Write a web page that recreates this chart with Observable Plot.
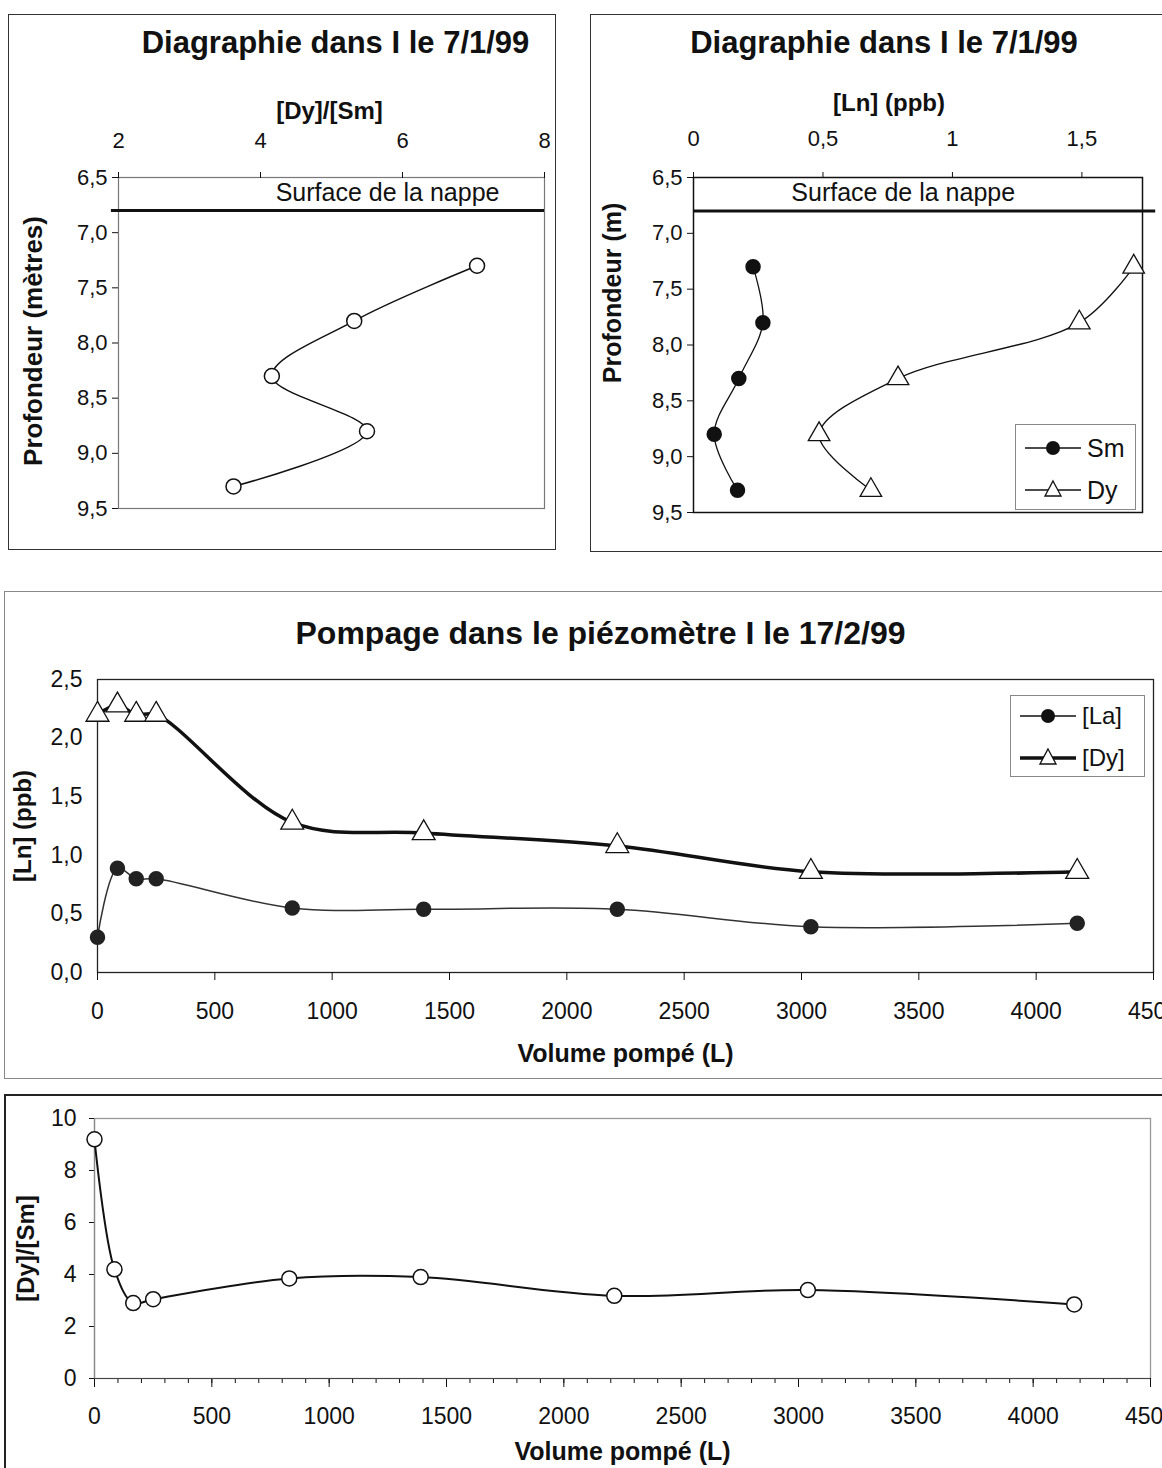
<!DOCTYPE html>
<html><head><meta charset="utf-8">
<script src="https://cdn.jsdelivr.net/npm/d3@7"></script>
<script src="https://cdn.jsdelivr.net/npm/@observablehq/plot@0.6"></script>
<style>
body{margin:0;background:#fff;}
#page{position:relative;width:1162px;height:1468px;overflow:hidden;background:#fff;font-family:"Liberation Sans",Arial,sans-serif;color:#111;}
.frame{position:absolute;box-sizing:border-box;}
.legend{position:absolute;box-sizing:border-box;background:#fff;border:1.5px solid #888;}
</style></head><body><div id="page"></div>
<script>
// ---------- DATA ----------
const titleLog = "Diagraphie dans I le 7/1/99";
const titlePump = "Pompage dans le piézomètre I le 17/2/99";
const waterLabel = "Surface de la nappe";
const waterTable = 6.8;                       // m
const depthTicks = [6.5, 7.0, 7.5, 8.0, 8.5, 9.0, 9.5];
// Panel 1 : [Dy]/[Sm] profile
const ratioTicks = [2, 4, 6, 8];
const logDepths = [7.3, 7.8, 8.3, 8.8, 9.3];
const logRatio = [7.05, 5.32, 4.16, 5.5, 3.62];
const waterLabelPos1 = {x: 5.79, y: 6.64};
// Panel 2 : [Ln] (ppb) profile
const lnTicks = [0, 0.5, 1, 1.5];
const logSm = [0.23, 0.268, 0.175, 0.08, 0.17];
const logDy = [1.70, 1.49, 0.79, 0.485, 0.685];
const waterLabelPos2 = {x: 0.81, y: 6.64};
// Panel 3 : pumping
const volumes = [0, 85, 165, 250, 830, 1390, 2215, 3040, 4175];
const pumpLa = [0.30, 0.89, 0.80, 0.80, 0.55, 0.54, 0.54, 0.39, 0.42];
const pumpDy = [2.20, 2.28, 2.20, 2.20, 1.28, 1.19, 1.08, 0.86, 0.86];
const volumeTicks = [0, 500, 1000, 1500, 2000, 2500, 3000, 3500, 4000, 4500];
const pumpLnTicks = [0, 0.5, 1.0, 1.5, 2.0, 2.5];
// Panel 4 : [Dy]/[Sm] during pumping
const pumpRatio = [9.2, 4.2, 2.9, 3.05, 3.85, 3.9, 3.18, 3.4, 2.85];
const pumpRatioTicks = [0, 2, 4, 6, 8, 10];
const minorVolumeTicks = d3.range(0, 4501, 100);

// ---------- HELPERS ----------
const FONT = "'Liberation Sans', Arial, Helvetica, sans-serif";
const comma = d => String(d).replace(".", ",");
const comma1 = d => d.toFixed(1).replace(".", ",");
const plain = d => String(d);
const page = document.getElementById("page");
const baseStyle = {fontFamily: FONT, fontSize: "22px", color: "#111", background: "transparent", overflow: "visible"};

function addFrame(l, t, w, h, border) {
  const d = document.createElement("div");
  d.className = "frame";
  Object.assign(d.style, {left: l + "px", top: t + "px", width: w + "px", height: h + "px", border});
  page.append(d);
}
function addPlot(svg, l, t) {
  svg.style.position = "absolute";
  svg.style.left = l + "px";
  svg.style.top = t + "px";
  svg.style.maxWidth = "none";
  page.append(svg);
}
function addLegend(l, t, w, h, items) {
  const d = document.createElement("div");
  d.className = "legend";
  Object.assign(d.style, {left: l + "px", top: t + "px", width: w + "px", height: h + "px"});
  const ns = "http://www.w3.org/2000/svg";
  const svg = document.createElementNS(ns, "svg");
  svg.setAttribute("width", w); svg.setAttribute("height", h);
  svg.style.position = "absolute"; svg.style.left = "-1.5px"; svg.style.top = "-1.5px";
  for (const it of items) {
    const line = document.createElementNS(ns, "line");
    line.setAttribute("x1", it.x1); line.setAttribute("x2", it.x2);
    line.setAttribute("y1", it.y); line.setAttribute("y2", it.y);
    line.setAttribute("stroke", "#111"); line.setAttribute("stroke-width", it.lw);
    svg.append(line);
    const cx = (it.x1 + it.x2) / 2;
    if (it.symbol === "circle") {
      const c = document.createElementNS(ns, "circle");
      c.setAttribute("cx", cx); c.setAttribute("cy", it.y); c.setAttribute("r", 7);
      c.setAttribute("fill", "#111"); svg.append(c);
    } else {
      const p = document.createElementNS(ns, "path");
      p.setAttribute("d", `M${cx},${it.y - 9}L${cx + 8},${it.y + 6}L${cx - 8},${it.y + 6}Z`);
      p.setAttribute("fill", "#fff"); p.setAttribute("stroke", "#111"); p.setAttribute("stroke-width", 1.3);
      svg.append(p);
    }
    const tx = document.createElementNS(ns, "text");
    tx.setAttribute("x", it.x2 + 6); tx.setAttribute("y", it.y);
    tx.setAttribute("dy", "0.35em");
    tx.setAttribute("font-family", FONT); tx.setAttribute("font-size", it.fs);
    tx.setAttribute("fill", "#111");
    tx.textContent = it.label;
    svg.append(tx);
  }
  d.append(svg);
  page.append(d);
}

// ---------- PANEL 1 ----------
const prof1 = logDepths.map((depth, i) => ({depth, r: logRatio[i]}));
addFrame(8, 14, 548, 536, "1.5px solid #333");
addPlot(Plot.plot({
  width: 548, height: 536,
  marginLeft: 110, marginRight: 12, marginTop: 163, marginBottom: 42,
  style: baseStyle,
  x: {domain: [2, 8]},
  y: {domain: [6.5, 9.5], reverse: true},
  marks: [
    Plot.frame({stroke: "#777", strokeWidth: 1.2}),
    Plot.axisX({anchor: "top", ticks: ratioTicks, tickFormat: plain, tickSize: 6, tickPadding: 24, label: null, fontSize: 22}),
    Plot.axisY({anchor: "left", ticks: depthTicks, tickFormat: comma1, tickSize: 6, tickPadding: 5, label: null, fontSize: 22}),
    Plot.ruleY([waterTable], {x1: 1.9, x2: 8, stroke: "#111", strokeWidth: 3}),
    Plot.text([waterLabelPos1], {x: "x", y: "y", text: () => waterLabel, fontSize: 25}),
    Plot.line(prof1, {x: "r", y: "depth", curve: "catmull-rom", stroke: "#111", strokeWidth: 1.5}),
    Plot.dot(prof1, {x: "r", y: "depth", r: 7.5, fill: "#fff", stroke: "#111", strokeWidth: 1.5}),
    Plot.text([titleLog], {frameAnchor: "top", lineAnchor: "middle", dx: 4, dy: -134, fontWeight: "bold", fontSize: 31}),
    Plot.text(["[Dy]/[Sm]"], {frameAnchor: "top", lineAnchor: "middle", dx: -2, dy: -66, fontWeight: "bold", fontSize: 24}),
    Plot.text(["Profondeur (mètres)"], {frameAnchor: "left", textAnchor: "middle", lineAnchor: "middle", dx: -85, dy: -2, rotate: -90, fontWeight: "bold", fontSize: 26})
  ]
}), 8, 14);

// ---------- PANEL 2 ----------
const prof2 = logDepths.map((depth, i) => ({depth, sm: logSm[i], dy: logDy[i]}));
addFrame(590, 14, 600, 538, "1.5px solid #333");
addPlot(Plot.plot({
  width: 572, height: 538,
  marginLeft: 103, marginRight: 20, marginTop: 163, marginBottom: 40,
  style: baseStyle,
  x: {domain: [0, 1.734]},
  y: {domain: [6.5, 9.5], reverse: true},
  marks: [
    Plot.frame({stroke: "#111", strokeWidth: 1.5}),
    Plot.axisX({anchor: "top", ticks: lnTicks, tickFormat: comma, tickSize: 6, tickPadding: 26, label: null, fontSize: 22}),
    Plot.axisY({anchor: "left", ticks: depthTicks, tickFormat: comma1, tickSize: 6, tickPadding: 5, label: null, fontSize: 22}),
    Plot.ruleY([waterTable], {x1: 0, x2: 1.785, stroke: "#111", strokeWidth: 3}),
    Plot.text([waterLabelPos2], {x: "x", y: "y", text: () => waterLabel, fontSize: 25}),
    Plot.line(prof2, {x: "sm", y: "depth", curve: "catmull-rom", stroke: "#111", strokeWidth: 1.3}),
    Plot.line(prof2, {x: "dy", y: "depth", curve: "catmull-rom", stroke: "#111", strokeWidth: 1.3}),
    Plot.dot(prof2, {x: "sm", y: "depth", r: 7, fill: "#111", stroke: "#111"}),
    Plot.dot(prof2, {x: "dy", y: "depth", r: 8, symbol: "triangle", fill: "#fff", stroke: "#111", strokeWidth: 1.3}),
    Plot.text([titleLog], {frameAnchor: "top", lineAnchor: "middle", dx: -34, dy: -134, fontWeight: "bold", fontSize: 31}),
    Plot.text(["[Ln] (ppb)"], {frameAnchor: "top", lineAnchor: "middle", dx: -29, dy: -74, fontWeight: "bold", fontSize: 24}),
    Plot.text(["Profondeur (m)"], {frameAnchor: "left", textAnchor: "middle", lineAnchor: "middle", dx: -81, dy: -52, rotate: -90, fontWeight: "bold", fontSize: 25})
  ]
}), 590, 14);
addLegend(1015, 424, 121, 86, [
  {label: "Sm", symbol: "circle", y: 24, x1: 10, x2: 66, lw: 1.3, fs: 25},
  {label: "Dy", symbol: "triangle", y: 66, x1: 10, x2: 66, lw: 1.3, fs: 25}
]);

// ---------- PANEL 3 ----------
const pump = volumes.map((v, i) => ({v, la: pumpLa[i], dy: pumpDy[i], ratio: pumpRatio[i]}));
addFrame(4, 591, 1170, 488, "1.2px solid #888");
addPlot(Plot.plot({
  width: 1158, height: 488,
  marginLeft: 93, marginRight: 9, marginTop: 89, marginBottom: 106,
  style: baseStyle,
  x: {domain: [0, 4500]},
  y: {domain: [0, 2.5]},
  marks: [
    Plot.frame({stroke: "#222", strokeWidth: 1.3}),
    Plot.axisX({ticks: volumeTicks, tickFormat: plain, tickSize: 8, tickPadding: 22, label: null, fontSize: 23}),
    Plot.axisY({ticks: pumpLnTicks, tickFormat: comma1, tickSize: 0, tickPadding: 15, label: null, fontSize: 23}),
    Plot.line(pump, {x: "v", y: "dy", curve: "catmull-rom", stroke: "#111", strokeWidth: 3.5}),
    Plot.line(pump, {x: "v", y: "la", curve: "catmull-rom", stroke: "#333", strokeWidth: 1.5}),
    Plot.dot(pump, {x: "v", y: "la", r: 7, fill: "#222", stroke: "#222"}),
    Plot.dot(pump, {x: "v", y: "dy", r: 8.5, symbol: "triangle", fill: "#fff", stroke: "#111", strokeWidth: 1.3}),
    Plot.text([titlePump], {frameAnchor: "top", lineAnchor: "middle", dx: -25, dy: -46, fontWeight: "bold", fontSize: 32}),
    Plot.text(["Volume pompé (L)"], {frameAnchor: "bottom", lineAnchor: "middle", dx: 0, dy: 81, fontWeight: "bold", fontSize: 25}),
    Plot.text(["[Ln] (ppb)"], {frameAnchor: "left", textAnchor: "middle", lineAnchor: "middle", dx: -74, rotate: -90, fontWeight: "bold", fontSize: 24})
  ]
}), 4, 590);
addLegend(1010, 695, 135, 82, [
  {label: "[La]", symbol: "circle", y: 21, x1: 10, x2: 66, lw: 1.5, fs: 24},
  {label: "[Dy]", symbol: "triangle", y: 63, x1: 10, x2: 66, lw: 3.5, fs: 24}
]);

// ---------- PANEL 4 ----------
addFrame(4, 1094, 1170, 390, "2px solid #222");
addPlot(Plot.plot({
  width: 1158, height: 375,
  marginLeft: 90, marginRight: 12, marginTop: 25, marginBottom: 90,
  style: baseStyle,
  x: {domain: [0, 4500]},
  y: {domain: [0, 10]},
  marks: [
    Plot.frame({stroke: "#999", strokeWidth: 1.3}),
    Plot.axisX({ticks: minorVolumeTicks, tickSize: 5, tickFormat: () => "", label: null}),
    Plot.axisX({ticks: volumeTicks, tickFormat: plain, tickSize: 9, tickPadding: 20, label: null, fontSize: 23}),
    Plot.axisY({ticks: pumpRatioTicks, tickSize: 5, tickPadding: 13, label: null, fontSize: 23}),
    Plot.ruleY([0], {stroke: "#444", strokeWidth: 1.2}),
    Plot.ruleX([0], {stroke: "#888", strokeWidth: 1.2}),
    Plot.line(pump, {x: "v", y: "ratio", curve: "catmull-rom", stroke: "#111", strokeWidth: 2}),
    Plot.dot(pump, {x: "v", y: "ratio", r: 7.5, fill: "#fff", stroke: "#111", strokeWidth: 1.5}),
    Plot.text(["Volume pompé (L)"], {frameAnchor: "bottom", lineAnchor: "middle", dx: 0, dy: 73, fontWeight: "bold", fontSize: 25}),
    Plot.text(["[Dy]/[Sm]"], {frameAnchor: "left", textAnchor: "middle", lineAnchor: "middle", dx: -68, rotate: -90, fontWeight: "bold", fontSize: 24})
  ]
}), 4, 1093);
</script></body></html>
